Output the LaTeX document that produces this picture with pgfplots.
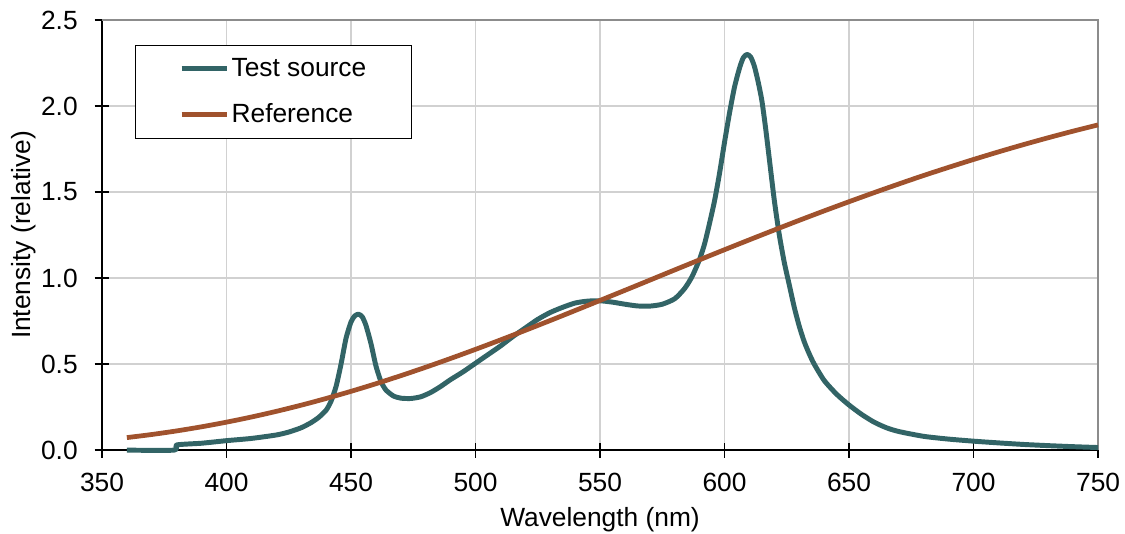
\documentclass[border=0pt]{standalone}
\usepackage{fontspec}
\setmainfont{Liberation Sans}
\usepackage{pgfplots}
\pgfplotsset{compat=1.18}
\definecolor{testc}{RGB}{50,100,102}
\definecolor{refc}{RGB}{160,82,45}
\pgfplotstableread{
x y
360 0
379 0
380 0.03
390 0.04
400 0.055
410 0.068
420 0.088
425 0.105
430 0.13
434 0.16
437 0.19
440 0.232
442 0.285
444 0.37
446 0.50
448 0.65
450 0.745
451.5 0.78
453 0.79
454.5 0.775
456 0.725
458 0.62
460 0.49
462 0.40
464 0.35
467 0.315
470 0.302
474 0.30
478 0.31
482 0.335
486 0.37
490 0.41
495 0.455
500 0.505
505 0.555
510 0.605
515 0.66
520 0.71
525 0.76
530 0.80
535 0.83
540 0.855
545 0.866
550 0.868
555 0.86
560 0.848
565 0.838
570 0.837
575 0.848
580 0.88
584 0.94
587 1.01
590 1.11
592 1.20
594 1.32
596 1.45
598 1.61
600 1.79
602 1.96
604 2.11
606 2.22
607.5 2.28
609 2.30
610.5 2.285
612 2.23
613.5 2.14
615 2.03
616.5 1.87
618 1.69
620 1.45
622 1.25
624 1.09
626 0.96
628 0.83
630 0.72
632 0.63
634 0.56
636 0.50
640 0.405
645 0.325
650 0.262
655 0.208
660 0.163
665 0.13
670 0.108
680 0.08
690 0.064
700 0.052
710 0.042
720 0.033
730 0.026
740 0.02
750 0.015
}\testdata
\pgfplotstableread{
x y
360 0.0728
370 0.0908
380 0.1117
390 0.1356
400 0.1625
410 0.1924
420 0.2253
430 0.2612
440 0.3001
450 0.3417
460 0.3859
470 0.4327
480 0.4817
490 0.5328
500 0.5857
510 0.6403
520 0.6962
530 0.7533
540 0.8113
550 0.8700
560 0.9288
570 0.9880
580 1.0474
590 1.1063
600 1.1649
610 1.2225
620 1.2795
630 1.3356
640 1.3904
650 1.4439
660 1.4962
670 1.5470
680 1.5965
690 1.6436
700 1.6894
710 1.7334
720 1.7755
730 1.8157
740 1.8540
750 1.8903
}\refdata
\begin{document}
\begin{tikzpicture}
\begin{axis}[name=ax,
  scale only axis, width=503pt, height=217.2pt,
  xmin=350, xmax=750, ymin=0, ymax=2.5,
  xtick={350,400,...,750}, ytick={0,0.5,...,2.5},
  axis lines*=left,
  clip=false,
  grid=major,
  grid style={color=black!18, line width=0.6pt},
  axis line style={line width=0.75pt, black},
  tick style={black, line width=0.75pt},
  tick align=center, major tick length=7.5pt,
  /pgf/number format/assume math mode=true,
  ticklabel style={font=\fontsize{13.3}{15}\selectfont},
  y tick label style={xshift=-5pt, /pgf/number format/fixed, /pgf/number format/fixed zerofill, /pgf/number format/precision=1},
  x tick label style={yshift=-4.5pt, /pgf/number format/set thousands separator={}},
  xlabel={Wavelength (nm)},
  ylabel={Intensity (relative)},
  label style={font=\fontsize{13.3}{15}\selectfont},
  xlabel style={at={(axis description cs:0.5,-0.178)}, anchor=base},
  ylabel style={at={(axis description cs:-0.0716,0.5)}, anchor=base, rotate=0},
  legend cell align=left,
  legend image code/.code={\draw[#1] (0pt,0pt) -- (23pt,0pt);},
  legend style={at={(rel axis cs:0.0332,0.942)}, anchor=north west,
    draw=black, line width=0.5pt, fill=white,
    font=\fontsize{13.3}{15}\selectfont,
    inner xsep=22pt, inner ysep=5.5pt, row sep=10pt,
    nodes={inner xsep=1pt, inner ysep=1pt}},
]
\draw[black!45, line width=0.6pt] (rel axis cs:0,1) -- (rel axis cs:1,1) -- (rel axis cs:1,0);
\addplot[testc, line width=2.5pt, line join=round, smooth, tension=0.4] table[x=x,y=y] {\testdata};
\addlegendentry{Test source}
\addplot[refc, line width=2.4pt, line join=round, smooth] table[x=x,y=y] {\refdata};
\addlegendentry{Reference}
\end{axis}
\pgfresetboundingbox
\path[use as bounding box] ([xshift=-51.5pt,yshift=-41.9pt]ax.south west) rectangle ([xshift=13.6pt,yshift=10.1pt]ax.north east);
\end{tikzpicture}
\end{document}
